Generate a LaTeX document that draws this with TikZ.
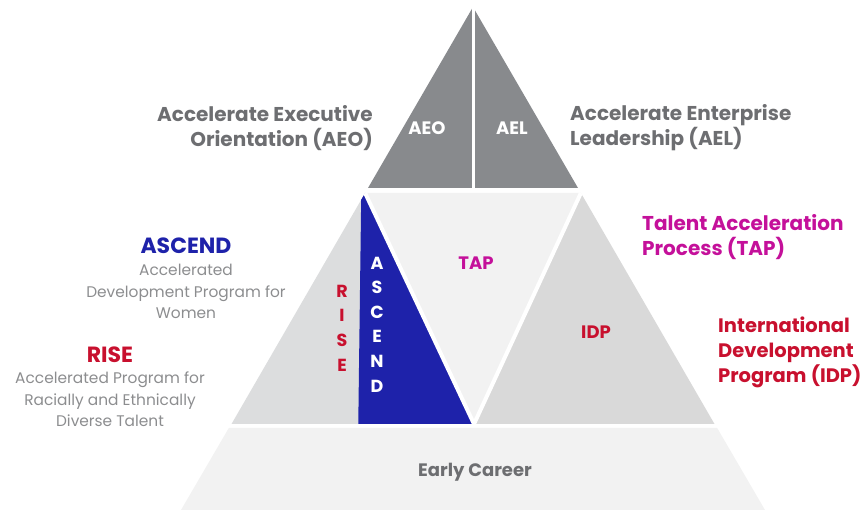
\documentclass[tikz,border=0pt]{standalone}
\usepackage{fontspec}
\setmainfont{Poppins}
\definecolor{topgray}{HTML}{888A8D}
\definecolor{leftgray}{HTML}{DCDDDE}
\definecolor{idpgray}{HTML}{D9D9D9}
\definecolor{palegray}{HTML}{F2F2F2}
\definecolor{ascblue}{HTML}{1E22AA}
\definecolor{risered}{HTML}{C8102E}
\definecolor{tapmag}{HTML}{C4109A}
\definecolor{titlegray}{HTML}{6D6E71}
\definecolor{descgray}{HTML}{8C8D8F}
\begin{document}
\begin{tikzpicture}[x=1pt,y=-1pt,
  title/.style={font=\fontsize{20}{25}\selectfont\bfseries, inner sep=0pt},
  head/.style={font=\fontsize{22}{25}\selectfont\bfseries, inner sep=0pt},
  desc/.style={font=\fontsize{15.4}{21.5}\selectfont, text=descgray, align=center, inner sep=0pt},
  inlabel/.style={font=\fontsize{18}{20}\selectfont\bfseries, inner sep=0pt},
  vletters/.style={font=\fontsize{17.5}{24.6}\selectfont\bfseries, align=center, inner sep=0pt},
  gap/.style={draw=white, line width=4pt}]
\useasboundingbox (0,0) rectangle (863,510);
% top triangle
\fill[topgray] (473,7) -- (368,188) -- (578,188) -- cycle;
\draw[white, line width=3pt] (473.5,0) -- (473.5,190);
% middle band
\coordinate (TL) at (365.1,193);
\coordinate (TR) at (580.9,193);
\coordinate (BL) at (231.5,424);
\coordinate (BR) at (714.5,424);
\coordinate (BC) at (474,424);
\fill[leftgray] (TL) -- (BL) -- (BC) -- cycle;
\begin{scope}
  \clip (TL) -- (BL) -- (BC) -- cycle;
  \fill[ascblue] (361.8,150) -- (358.2,430) -- (520,430) -- (520,150) -- cycle;
\end{scope}
\fill[palegray] (TL) -- (TR) -- (BC) -- cycle;
\fill[idpgray] (TR) -- (BC) -- (BR) -- cycle;
\draw[gap] (TL) -- (BC);
\draw[gap] (TR) -- (BC);
% bottom trapezoid
\fill[palegray] (228.8,428) -- (717.2,428) -- (765,510) -- (181,510) -- cycle;

% labels inside
\node[inlabel, text=white] (aeo) at (427,128) {AEO};
\node[inlabel, text=white] (ael) at (512,128) {AEL};
\node[inlabel, text=tapmag] (tap) at (476,263) {TAP};
\node[inlabel, text=risered] (idp) at (596,332) {IDP};
\node[inlabel, text=titlegray] (early) at (475,472) {Early Career};
\node[vletters, text=risered] (risev) at (342,328) {R\\I\\S\\E};
\node[vletters, text=white] (ascv) at (377,324.5) {A\\S\\C\\E\\N\\D};

% outside titles
\node[title, text=titlegray, align=right, anchor=east] (aeoT) at (373,128) {Accelerate Executive\\Orientation (AEO)};
\node[title, text=titlegray, align=left, anchor=west] (aelT) at (570,128) {Accelerate Enterprise\\Leadership (AEL)};
\node[title, text=tapmag, align=left, anchor=west] (tapT) at (642,237) {Talent Acceleration\\Process (TAP)};
\node[title, text=risered, align=left, anchor=west, font=\fontsize{19.5}{25}\selectfont\bfseries] (idpT) at (718,352) {International\\Development\\Program (IDP)};
\node[head, text=ascblue] (ascT) at (186,246) {ASCEND};
\node[desc] (ascD) at (186,291.5) {Accelerated\\Development Program for\\Women};
\node[head, text=risered] (riseT) at (110,355) {RISE};
\node[desc] (riseD) at (110,399.5) {Accelerated Program for\\Racially and Ethnically\\Diverse Talent};
\end{tikzpicture}
\end{document}
